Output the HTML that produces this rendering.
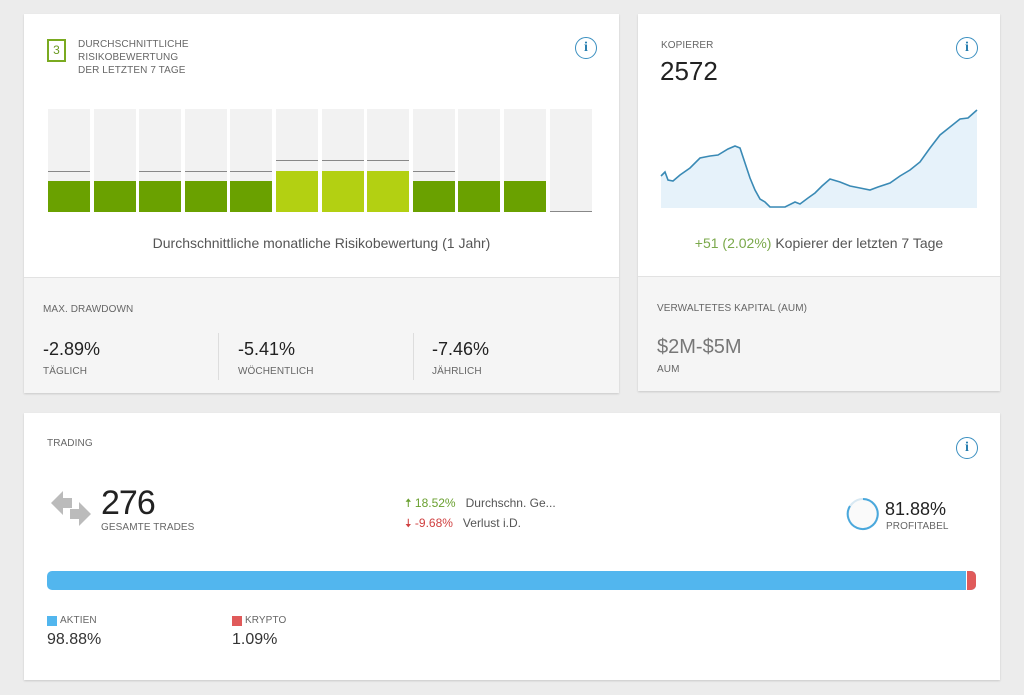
<!DOCTYPE html>
<html><head><meta charset="utf-8"><style>
*{margin:0;padding:0;box-sizing:border-box}
body{width:1024px;height:695px;background:#ececec;font-family:"Liberation Sans",sans-serif;position:relative;overflow:hidden;color:#333}
.card{position:absolute;background:#fff;box-shadow:0 1px 2px rgba(0,0,0,.15)}
.a{position:absolute;white-space:nowrap}
.sm{font-size:10px;color:#666;letter-spacing:.1px}
.info{position:absolute;width:22px;height:22px;border:1.5px solid #3a8fc0;border-radius:50%;color:#2a7fb0;font:bold 14px "Liberation Serif",serif;text-align:center;line-height:19px}
.bar{position:absolute;width:42px;top:109px;height:103px;background:#f2f2f2}
</style></head><body>
<div class="card" style="left:24px;top:14px;width:595px;height:379px;">
 <div style="position:absolute;left:0;top:263px;width:595px;height:116px;background:#f5f5f5;border-top:1px solid #e2e2e2"></div>
</div>
<div class="card" style="left:638px;top:14px;width:362px;height:377px;">
 <div style="position:absolute;left:0;top:262px;width:362px;height:115px;background:#f5f5f5;border-top:1px solid #e2e2e2"></div>
</div>
<div class="card" style="left:24px;top:413px;width:976px;height:267px;"></div>

<div class="a" style="left:47px;top:39px;width:19px;height:23px;border:2px solid #7aaa20;color:#6a9a20;font-size:12px;text-align:center;line-height:19px">3</div>
<div class="a sm" style="left:78px;top:38px;line-height:13px">DURCHSCHNITTLICHE<br>RISIKOBEWERTUNG<br>DER LETZTEN 7 TAGE</div>
<div class="info" style="left:575px;top:37px">i</div>

<div id="bars"></div>
<div class="a" style="left:0;width:643px;text-align:center;top:235px;font-size:14px;color:#555">Durchschnittliche monatliche Risikobewertung (1 Jahr)</div>

<div class="a sm" style="left:43px;top:304px">MAX. DRAWDOWN</div>
<div class="a" style="left:43px;top:339px;font-size:18px;color:#222">-2.89%</div>
<div class="a sm" style="left:43px;top:366px">TÄGLICH</div>
<div class="a" style="left:218px;top:333px;width:1px;height:47px;background:#ddd"></div>
<div class="a" style="left:238px;top:339px;font-size:18px;color:#222">-5.41%</div>
<div class="a sm" style="left:238px;top:366px">WÖCHENTLICH</div>
<div class="a" style="left:413px;top:333px;width:1px;height:47px;background:#ddd"></div>
<div class="a" style="left:432px;top:339px;font-size:18px;color:#222">-7.46%</div>
<div class="a sm" style="left:432px;top:366px">JÄHRLICH</div>

<div class="a sm" style="left:661px;top:40px">KOPIERER</div>
<div class="a" style="left:660px;top:56px;font-size:26px;color:#222">2572</div>
<div class="info" style="left:956px;top:37px">i</div>
<svg class="a" style="left:0;top:0" width="1024" height="695">
<polyline fill="#e6f2fa" stroke="none" points="661,208 661,176 665,172 668,180 673,181 680,175 690,168 700,158 710,156 718,155 728,149 735,146 740,148 745,163 750,178 755,190 760,199 765,202 770,207 785,207 795,202 800,204 808,198 815,193 822,186 830,179 840,182 850,186 860,188 870,190 878,187 890,183 900,176 910,170 920,162 930,148 940,135 950,127 960,119 968,118 977,110 977,208"/>
<polyline fill="none" stroke="#3a8ab5" stroke-width="1.6" points="661,176 665,172 668,180 673,181 680,175 690,168 700,158 710,156 718,155 728,149 735,146 740,148 745,163 750,178 755,190 760,199 765,202 770,207 785,207 795,202 800,204 808,198 815,193 822,186 830,179 840,182 850,186 860,188 870,190 878,187 890,183 900,176 910,170 920,162 930,148 940,135 950,127 960,119 968,118 977,110"/>
<circle cx="863" cy="514" r="15" fill="#fafafa" stroke="#d8e8f2" stroke-width="2"/>
<path d="M863,499 A15,15 0 1 1 850,506" fill="none" stroke="#4aa8dc" stroke-width="2"/>
<path d="M51,503 l12,-12 v7 h9 v10 h-9 v7z" fill="#bbb"/>
<path d="M91,514 l-12,-12 v7 h-9 v10 h9 v7z" fill="#bbb"/>
</svg>
<div class="a" style="left:0;left:638px;width:362px;text-align:center;top:235px;font-size:14px;color:#555"><span style="color:#7aa84a">+51 (2.02%)</span> Kopierer der letzten 7 Tage</div>
<div class="a sm" style="left:657px;top:303px">VERWALTETES KAPITAL (AUM)</div>
<div class="a" style="left:657px;top:336px;font-size:20px;color:#777">$2M-$5M</div>
<div class="a sm" style="left:657px;top:364px">AUM</div>

<div class="a sm" style="left:47px;top:438px">TRADING</div>
<div class="info" style="left:956px;top:437px">i</div>
<div class="a" style="left:101px;top:484px;font-size:34px;color:#222;letter-spacing:-1px">276</div>
<div class="a sm" style="left:101px;top:522px">GESAMTE TRADES</div>
<div class="a" style="left:405px;top:494px;font-size:12px;color:#555"><span style="color:#6aa030">🠅 18.52%</span>&nbsp;&nbsp; Durchschn. Ge...</div>
<div class="a" style="left:405px;top:514px;font-size:12px;color:#555"><span style="color:#d04040">🠇 -9.68%</span>&nbsp;&nbsp; Verlust i.D.</div>
<div class="a" style="left:885px;top:499px;font-size:18px;color:#222">81.88%</div>
<div class="a sm" style="left:886px;top:521px">PROFITABEL</div>
<div class="a" style="left:47px;top:571px;width:929px;height:19px;border-radius:5px;background:#52b6ee;overflow:hidden"><div style="position:absolute;right:0;top:0;width:10px;height:19px;background:#e05a5a;border-left:1px solid #fff"></div></div>
<div class="a" style="left:47px;top:616px;width:10px;height:10px;background:#52b6ee"></div>
<div class="a sm" style="left:60px;top:615px">AKTIEN</div>
<div class="a" style="left:47px;top:631px;font-size:16px;color:#333">98.88%</div>
<div class="a" style="left:232px;top:616px;width:10px;height:10px;background:#e05a5a"></div>
<div class="a sm" style="left:245px;top:615px">KRYPTO</div>
<div class="a" style="left:232px;top:631px;font-size:16px;color:#333">1.09%</div>
<script>
var h='',types=[0,0,0,0,0,1,1,1,0,0,0,2];
for(var i=0;i<12;i++){var x=48+i*45.6,t=types[i];
h+='<div class="bar" style="left:'+x+'px"></div>';
if(t==0){h+='<div class="a" style="left:'+x+'px;top:181px;width:42px;height:31px;background:#6aa100"></div>';
 if(i!=1&&i!=9&&i!=10)h+='<div class="a" style="left:'+x+'px;top:171px;width:42px;height:1px;background:#888"></div>';}
if(t==1){h+='<div class="a" style="left:'+x+'px;top:171px;width:42px;height:41px;background:#b3d012"></div><div class="a" style="left:'+x+'px;top:160px;width:42px;height:1px;background:#888"></div>';}
if(t==2)h+='<div class="a" style="left:'+x+'px;top:211px;width:42px;height:1px;background:#888"></div>';}
document.getElementById('bars').innerHTML=h;
</script>
</body></html>
